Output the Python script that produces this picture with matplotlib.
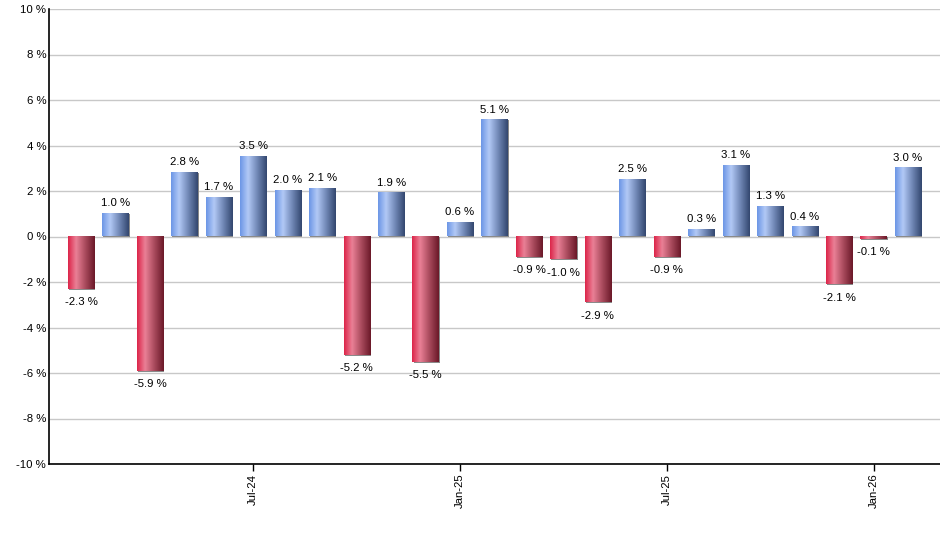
import numpy as np
import matplotlib

matplotlib.use("Agg")

import matplotlib.pyplot as plt
from matplotlib.colors import LinearSegmentedColormap

months = ["Feb-24", "Mar-24", "Apr-24", "May-24", "Jun-24", "Jul-24", "Aug-24",
          "Sep-24", "Oct-24", "Nov-24", "Dec-24", "Jan-25", "Feb-25", "Mar-25",
          "Apr-25", "May-25", "Jun-25", "Jul-25", "Aug-25", "Sep-25", "Oct-25",
          "Nov-25", "Dec-25", "Jan-26", "Feb-26"]
returns = [-2.3, 1.0, -5.9, 2.8, 1.7, 3.5, 2.0, 2.1, -5.2, 1.9, -5.5, 0.6, 5.1,
           -0.9, -1.0, -2.9, 2.5, -0.9, 0.3, 3.1, 1.3, 0.4, -2.1, -0.1, 3.0]
shown_ticks = ["Jul-24", "Jan-25", "Jul-25", "Jan-26"]
y_ticks = [-10, -8, -6, -4, -2, 0, 2, 4, 6, 8, 10]

blue_cmap = LinearSegmentedColormap.from_list(
    "blue", [(0, "#6b95e6"), (0.3, "#b2c9f6"), (0.65, "#6f86b4"), (1, "#32466e")])
red_cmap = LinearSegmentedColormap.from_list(
    "red", [(0, "#dc2448"), (0.3, "#ea8096"), (0.65, "#a84a5c"), (1, "#6a1828")])

plt.rcParams["font.family"] = ["Liberation Sans", "DejaVu Sans"]
FS = 8.2

fig = plt.figure(figsize=(9.4, 5.5), dpi=100)
ax = fig.add_axes([49 / 940, 1 - 464 / 550, 891 / 940, 455 / 550])

width = 0.76
grad = np.linspace(0, 1, 256).reshape(1, -1)
for i, v in enumerate(returns):
    cmap = blue_cmap if v >= 0 else red_cmap
    x0, x1 = i - width / 2, i + width / 2
    # small grey shadow on right / bottom edge
    ax.bar(i + 0.03, v - (0.04 if v < 0 else 0), width=width, bottom=0,
           color="#8a8a8a", zorder=2, linewidth=0)
    ax.imshow(grad, cmap=cmap, extent=(x0, x1, 0, v), aspect="auto",
              interpolation="bilinear", zorder=3)
    if v >= 0:
        ax.annotate(f"{v:.1f} %", (i, v), xytext=(0, 4), textcoords="offset points",
                    ha="center", va="bottom", fontsize=FS, zorder=4)
    else:
        ax.annotate(f"{v:.1f} %", (i, v), xytext=(0, -6), textcoords="offset points",
                    ha="center", va="top", fontsize=FS, zorder=4)

ax.set_xlim(-0.93, len(returns) - 1 + 0.93)
ax.set_ylim(-10, 10)
ax.set_yticks(y_ticks)
ax.set_yticklabels([f"{t} %" for t in y_ticks], fontsize=FS)
ax.yaxis.grid(True, color="#c8c8c8", linewidth=1)
ax.set_axisbelow(True)
ax.tick_params(axis="y", length=0, pad=2)

tick_pos = [months.index(m) for m in shown_ticks]
ax.set_xticks(tick_pos)
ax.set_xticklabels(shown_ticks, rotation=90, fontsize=FS)
ax.tick_params(axis="x", length=5, direction="out", width=1, pad=2)

for side in ["top", "right"]:
    ax.spines[side].set_visible(False)
ax.spines["left"].set_linewidth(1.2)
ax.spines["bottom"].set_linewidth(1.2)

fig.savefig("out.png", dpi=100)
